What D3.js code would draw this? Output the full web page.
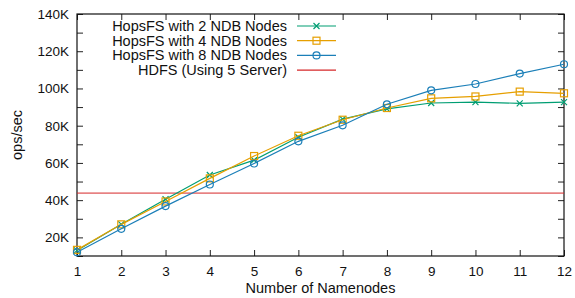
<!DOCTYPE html>
<html>
<head>
<meta charset="utf-8">
<script src="https://cdn.jsdelivr.net/npm/d3@7"></script>
<style>
  body { margin: 0; background: #fff; }
  text { font-family: "Liberation Sans", Arial, sans-serif; fill: #111; }
</style>
</head>
<body>
<div id="chart"></div>
<script>
// Namenode counts on the x axis
const namenodes = [1, 2, 3, 4, 5, 6, 7, 8, 9, 10, 11, 12];

// Throughput (ops/sec)
const ndb2 = [13000, 27000, 40500, 53500, 61500, 73800, 83500, 89000, 92200, 92700, 92000, 92700];
const ndb4 = [13300, 27000, 39300, 51700, 63700, 74600, 83200, 89500, 94700, 95700, 98300, 97400];
const ndb8 = [12000, 24600, 36800, 48400, 59700, 71600, 80200, 91500, 99000, 102400, 108000, 113000];
const hdfs = 43800;

const yTicks = [20000, 40000, 60000, 80000, 100000, 120000, 140000];

const series = [
  { name: "HopsFS with 2 NDB Nodes", values: ndb2, color: "#009e73", marker: "cross" },
  { name: "HopsFS with 4 NDB Nodes", values: ndb4, color: "#e69f00", marker: "square" },
  { name: "HopsFS with 8 NDB Nodes", values: ndb8, color: "#1b7fb8", marker: "circle" }
];

function renderChart() {
  const width = 575;
  const height = 298;
  const margin = { top: 14, right: 11, bottom: 42, left: 77 };

  const svg = d3.select("#chart")
    .append("svg")
    .attr("width", width)
    .attr("height", height);

  const x = d3.scaleLinear().domain([1, 12]).range([margin.left, width - margin.right]);
  const y = d3.scaleLinear().domain([10000, 140000]).range([height - margin.bottom, margin.top]);

  const fmtK = d => (d / 1000) + "K";
  const minor = d3.range(10000, 140001, 10000);

  // ticks on all four sides, pointing inward
  svg.append("g")
    .attr("transform", `translate(0,${y.range()[0]})`)
    .call(d3.axisBottom(x).tickValues(namenodes).tickSize(-6).tickPadding(10).tickFormat(d3.format("d")))
    .call(g => g.select(".domain").remove());
  svg.append("g")
    .attr("transform", `translate(0,${margin.top})`)
    .call(d3.axisTop(x).tickValues(namenodes).tickSize(-6).tickFormat(""))
    .call(g => g.select(".domain").remove());
  svg.append("g")
    .attr("transform", `translate(${margin.left},0)`)
    .call(d3.axisLeft(y).tickValues(minor).tickSize(-6).tickPadding(8)
      .tickFormat(d => yTicks.includes(d) ? fmtK(d) : ""))
    .call(g => g.select(".domain").remove());
  svg.append("g")
    .attr("transform", `translate(${width - margin.right},0)`)
    .call(d3.axisRight(y).tickValues(minor).tickSize(-6).tickFormat(""))
    .call(g => g.select(".domain").remove());

  svg.selectAll(".tick line").attr("stroke", "#222");
  svg.selectAll(".tick text").style("font-size", "13.5px").attr("fill", "#111");

  // border
  svg.append("rect")
    .attr("x", margin.left)
    .attr("y", margin.top)
    .attr("width", width - margin.left - margin.right)
    .attr("height", height - margin.top - margin.bottom)
    .attr("fill", "none")
    .attr("stroke", "#111")
    .attr("stroke-width", 1.2);

  // HDFS reference line
  svg.append("line")
    .attr("x1", x(1)).attr("x2", x(12))
    .attr("y1", y(hdfs)).attr("y2", y(hdfs))
    .attr("stroke", "#d62728")
    .attr("stroke-width", 1);

  const line = d3.line()
    .x((d, i) => x(namenodes[i]))
    .y(d => y(d));

  function drawMarker(g, type, color, cx, cy) {
    if (type === "cross") {
      g.append("path")
        .attr("d", `M${cx - 3},${cy - 3}L${cx + 3},${cy + 3}M${cx - 3},${cy + 3}L${cx + 3},${cy - 3}`)
        .attr("stroke", color).attr("stroke-width", 1.2);
    } else if (type === "square") {
      g.append("rect")
        .attr("x", cx - 3.5).attr("y", cy - 3.5)
        .attr("width", 7).attr("height", 7)
        .attr("fill", "none").attr("stroke", color).attr("stroke-width", 1.2);
    } else {
      g.append("circle")
        .attr("cx", cx).attr("cy", cy).attr("r", 3.5)
        .attr("fill", "none").attr("stroke", color).attr("stroke-width", 1.2);
    }
  }

  series.forEach(s => {
    svg.append("path")
      .datum(s.values)
      .attr("d", line)
      .attr("fill", "none")
      .attr("stroke", s.color)
      .attr("stroke-width", 1.2);
    const g = svg.append("g");
    s.values.forEach((v, i) => drawMarker(g, s.marker, s.color, x(namenodes[i]), y(v)));
  });

  // legend
  const legend = svg.append("g");
  const rows = series.concat([{ name: "HDFS (Using 5 Server)", color: "#d62728", marker: null }]);
  rows.forEach((s, i) => {
    const ly = 26 + i * 14.7;
    legend.append("text")
      .attr("x", 287).attr("y", ly)
      .attr("dy", "0.35em")
      .attr("text-anchor", "end")
      .style("font-size", "14.5px")
      .text(s.name);
    legend.append("line")
      .attr("x1", 297).attr("x2", 336)
      .attr("y1", ly).attr("y2", ly)
      .attr("stroke", s.color).attr("stroke-width", 1.2);
    if (s.marker) drawMarker(legend, s.marker, s.color, 316.5, ly);
  });

  // axis titles
  svg.append("text")
    .attr("x", (margin.left + width - margin.right) / 2)
    .attr("y", 293)
    .attr("text-anchor", "middle")
    .style("font-size", "14.5px")
    .text("Number of Namenodes");

  svg.append("text")
    .attr("transform", `translate(22,${(margin.top + height - margin.bottom) / 2}) rotate(-90)`)
    .attr("text-anchor", "middle")
    .style("font-size", "14.5px")
    .text("ops/sec");
}

renderChart();
</script>
</body>
</html>
